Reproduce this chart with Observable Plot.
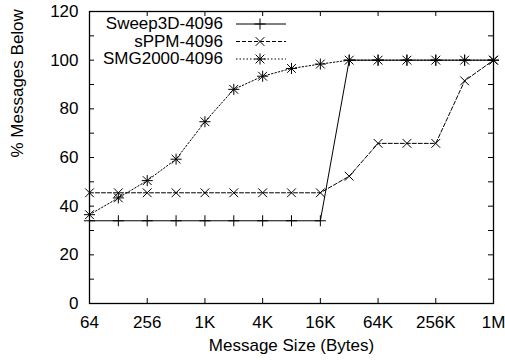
<!DOCTYPE html>
<html>
<head>
<meta charset="utf-8">
<script src="https://cdn.jsdelivr.net/npm/d3@7"></script>
<script src="https://cdn.jsdelivr.net/npm/@observablehq/plot@0.6"></script>
<style>
  html, body { margin: 0; padding: 0; background: white; }
</style>
</head>
<body>
<div id="chart"></div>
<script>
// Message sizes (bytes): 64 .. 1M, every power of two
const sizes = [64, 128, 256, 512, 1024, 2048, 4096, 8192, 16384, 32768, 65536, 131072, 262144, 524288, 1048576];
// % messages below, per series
const sweep3d = [34, 34, 34, 34, 34, 34, 34, 34, 34, 100, 100, 100, 100, 100, 100];
const sppm    = [45.5, 45.5, 45.5, 45.5, 45.5, 45.5, 45.5, 45.5, 45.5, 52.3, 65.8, 65.8, 65.8, 91.5, 100];
const smg2000 = [36.5, 43.4, 50.5, 59.3, 74.7, 88, 93.4, 96.6, 98.4, 100, 100, 100, 100, 100, 100];
const seriesNames = ["Sweep3D-4096", "sPPM-4096", "SMG2000-4096"];

const xTicks = [64, 256, 1024, 4096, 16384, 65536, 262144, 1048576];
const xTickLabels = ["64", "256", "1K", "4K", "16K", "64K", "256K", "1M"];
const yTicks = [0, 20, 40, 60, 80, 100, 120];
const yMinorTicks = [10, 30, 50, 70, 90, 110];

const W = 505, H = 360;
const mL = 89, mR = 12, mT = 11, mB = 57;
const fw = W - mL - mR, fh = H - mT - mB;

const toRows = (vals) => sizes.map((s, i) => ({x: s, y: vals[i]}));
const dSweep = toRows(sweep3d), dSppm = toRows(sppm), dSmg = toRows(smg2000);

const styles = [
  {dash: null, symbols: ["plus"]},
  {dash: "4,2", symbols: ["times"]},
  {dash: "1.5,2", symbols: ["plus", "times"]}
];
const symSize = {plus: 42, times: 52};
const symR = {plus: Math.sqrt(42 / Math.PI), times: Math.sqrt(52 / Math.PI)};
const d3sym = {plus: d3.symbolPlus, times: d3.symbolTimes};

function legend() {
  const g = d3.create("svg:g").attr("font-size", 17).attr("fill", "black");
  seriesNames.forEach((name, i) => {
    const y = mT + 13 + i * 17.5;
    g.append("text").attr("x", 223).attr("y", y).attr("dy", "0.32em")
      .attr("text-anchor", "end").text(name);
    g.append("line").attr("x1", 236).attr("x2", 286).attr("y1", y).attr("y2", y)
      .attr("stroke", "black").attr("stroke-width", 1)
      .attr("stroke-dasharray", styles[i].dash);
    styles[i].symbols.forEach(s => {
      g.append("path").attr("d", d3.symbol(d3sym[s], symSize[s])())
        .attr("transform", `translate(260,${y})`)
        .attr("fill", "none").attr("stroke", "black");
    });
  });
  return g.node();
}

const datasets = [dSweep, dSppm, dSmg];
const marks = [
  Plot.frame({stroke: "black", strokeWidth: 1.3}),
  // inner ticks
  Plot.tickX(xTicks, {x: d => d, insetTop: fh - 5, stroke: "black"}),
  Plot.tickX(xTicks, {x: d => d, insetBottom: fh - 5, stroke: "black"}),
  Plot.tickY(yTicks.concat(yMinorTicks), {y: d => d, insetRight: fw - 5, stroke: "black"}),
  Plot.tickY(yTicks.concat(yMinorTicks), {y: d => d, insetLeft: fw - 5, stroke: "black"}),
  Plot.axisX({ticks: xTicks, tickFormat: d => xTickLabels[xTicks.indexOf(d)], tickSize: 0, tickPadding: 12, label: null}),
  Plot.axisY({ticks: yTicks, tickSize: 0, tickPadding: 11, label: null}),
  Plot.text(["Message Size (Bytes)"], {frameAnchor: "bottom", dy: 47.5, text: d => d}),
  Plot.text(["% Messages Below"], {frameAnchor: "left", dx: -71.5, rotate: -90, text: d => d})
];
datasets.forEach((data, i) => {
  marks.push(Plot.line(data, {x: "x", y: "y", stroke: "black", strokeWidth: 1, strokeDasharray: styles[i].dash}));
  styles[i].symbols.forEach(s => {
    marks.push(Plot.dot(data, {x: "x", y: "y", symbol: s, r: symR[s], stroke: "black", strokeWidth: 1}));
  });
});
marks.push(legend);

const chart = Plot.plot({
  width: W, height: H,
  marginLeft: mL, marginRight: mR, marginTop: mT, marginBottom: mB,
  style: {fontSize: "17px", fontFamily: "'Liberation Sans', Arial, sans-serif", background: "white", color: "black"},
  x: {type: "log", base: 2, domain: [64, 1048576], axis: null},
  y: {domain: [0, 120], axis: null},
  marks
});
document.getElementById("chart").appendChild(chart);
</script>
</body>
</html>
